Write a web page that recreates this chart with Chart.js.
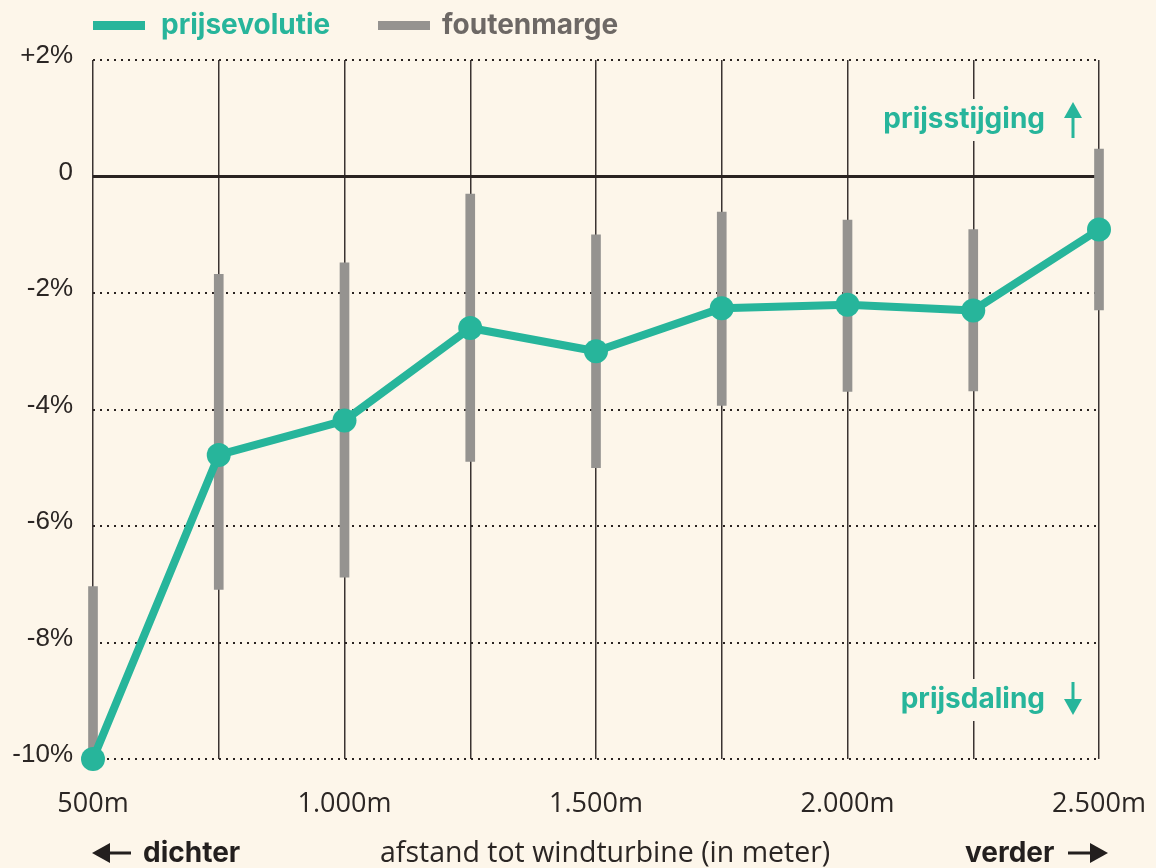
<!DOCTYPE html>
<html>
<head>
<meta charset="utf-8">
<script src="https://cdn.jsdelivr.net/npm/chart.js@4"></script>
<style>
  html, body { margin: 0; padding: 0; background: #fdf6ea; }
  #wrap { position: relative; width: 1156px; height: 868px; overflow: hidden; }
  #chart { position: absolute; left: 0; top: 0; }
  .txt { position: absolute; white-space: nowrap; line-height: 30px; }
  .bold { font-family: Inter, sans-serif; font-weight: 700; font-size: 28px; }
  .swatch { position: absolute; height: 9px; width: 52px; }
</style>
</head>
<body>
<div id="wrap">
  <canvas id="chart" width="1156" height="868"></canvas>

  <div class="swatch" style="left:93px; top:21px; background:#27b59b;"></div>
  <div class="txt bold" style="left:161px; top:9px; color:#27b59b;">prijsevolutie</div>
  <div class="swatch" style="left:378px; top:21px; background:#959390;"></div>
  <div class="txt bold" style="left:442px; top:9px; color:#6d6865;">foutenmarge</div>

  <svg style="position:absolute; left:92px; top:841px;" width="40" height="24">
    <polygon points="0,12 18,2 18,22" fill="#231f1e"/>
    <rect x="14" y="10.5" width="25" height="3" fill="#231f1e"/>
  </svg>
  <div class="txt bold" style="left:143px; top:837px; color:#231f1e;">dichter</div>
  <div class="txt" style="left:380px; top:836px; font-family:'Open Sans', sans-serif; font-size:28.5px; color:#2b2624;">afstand tot windturbine (in meter)</div>
  <div class="txt bold" style="left:965px; top:837px; color:#231f1e;">verder</div>
  <svg style="position:absolute; left:1068px; top:841px;" width="40" height="24">
    <rect x="0" y="10.5" width="25" height="3" fill="#231f1e"/>
    <polygon points="40,12 22,2 22,22" fill="#231f1e"/>
  </svg>
</div>

<script>
// afstand tot windturbine (m) en prijsevolutie (%)
const distances = [500, 750, 1000, 1250, 1500, 1750, 2000, 2250, 2500];
const priceChange = [-10.0, -4.78, -4.19, -2.6, -3.0, -2.26, -2.2, -2.3, -0.91];
const errorLow = [-10.0, -7.09, -6.88, -4.89, -5.0, -3.93, -3.69, -3.68, -2.29];
const errorHigh = [-7.04, -1.68, -1.48, -0.3, -1.0, -0.61, -0.75, -0.91, 0.47];

const xTickLabels = { 500: '500m', 1000: '1.000m', 1500: '1.500m', 2000: '2.000m', 2500: '2.500m' };
const yTicks = [2, 0, -2, -4, -6, -8, -10];
const yTickLabels = ['+2%', '0', '-2%', '-4%', '-6%', '-8%', '-10%'];

const teal = '#27b59b';
const gray = '#959390';
const dark = '#2a2321';
const cream = '#fdf6ea';

// tekstlabels prijsstijging / prijsdaling met pijltje
const notes = {
  id: 'notes',
  beforeDatasetsDraw(chart) {
    const ctx = chart.ctx;
    ctx.save();
    ctx.font = '700 28px Inter';
    ctx.textAlign = 'right';
    ctx.textBaseline = 'middle';
    drawNote(ctx, 'prijsstijging', 1045, 120, true);
    drawNote(ctx, 'prijsdaling', 1045, 700, false);
    ctx.restore();
  }
};

function drawNote(ctx, text, right, y, up) {
  const w = ctx.measureText(text).width;
  ctx.fillStyle = cream;
  ctx.fillRect(right - w - 8, y - 21, w + 50, 42);
  ctx.fillStyle = teal;
  ctx.fillText(text, right, y);
  const ax = right + 28;
  ctx.fillRect(ax - 1.5, up ? y - 6 : y - 18, 3, 24);
  ctx.beginPath();
  if (up) {
    ctx.moveTo(ax, y - 18); ctx.lineTo(ax - 9, y - 2); ctx.lineTo(ax + 9, y - 2);
  } else {
    ctx.moveTo(ax, y + 15); ctx.lineTo(ax - 9, y - 1); ctx.lineTo(ax + 9, y - 1);
  }
  ctx.closePath();
  ctx.fill();
}

new Chart(document.getElementById('chart'), {
  type: 'line',
  data: {
    datasets: [
      {
        type: 'line',
        label: 'prijsevolutie',
        data: distances.map((d, i) => ({ x: d, y: priceChange[i] })),
        borderColor: teal,
        backgroundColor: teal,
        borderWidth: 8,
        pointRadius: 12,
        pointBorderWidth: 0,
        pointBackgroundColor: teal,
        borderJoinStyle: 'round',
        tension: 0,
        clip: false,
        order: 1
      },
      {
        type: 'bar',
        label: 'foutenmarge',
        data: distances.map((d, i) => ({ x: d, y: [errorLow[i], errorHigh[i]] })),
        backgroundColor: gray,
        barThickness: 9,
        grouped: false,
        clip: false,
        order: 2
      }
    ]
  },
  options: {
    responsive: false,
    animation: false,
    devicePixelRatio: 1,
    layout: { padding: { top: 60, right: 57, left: 0, bottom: 0 } },
    plugins: { legend: { display: false }, tooltip: { enabled: false } },
    scales: {
      x: {
        type: 'linear',
        min: 500,
        max: 2500,
        offset: false,
        afterBuildTicks: s => { s.ticks = distances.map(v => ({ value: v })); },
        afterFit: s => { s.height = 109; s.paddingLeft = 0; s.paddingRight = 0; },
        ticks: {
          autoSkip: false,
          maxRotation: 0,
          padding: 29,
          color: '#2b2624',
          font: { family: 'Open Sans', size: 27 },
          callback: v => xTickLabels[v] || ''
        },
        grid: { color: '#3a3331', lineWidth: 1.5, drawTicks: false, offset: false },
        border: { display: false }
      },
      y: {
        min: -10,
        max: 2,
        afterBuildTicks: s => { s.ticks = yTicks.map(v => ({ value: v })); },
        afterFit: s => { s.width = 93; },
        ticks: {
          padding: 20,
          labelOffset: -4,
          color: '#2b2624',
          font: { family: 'Liberation Sans', size: 26 },
          callback: v => yTickLabels[yTicks.indexOf(v)]
        },
        grid: {
          drawTicks: false,
          color: dark,
          lineWidth: c => (c.tick && c.tick.value === 0 ? 3 : 2)
        },
        border: {
          display: false,
          dash: c => (c.tick && c.tick.value === 0 ? [] : [2, 5])
        }
      }
    }
  },
  plugins: [notes]
});
</script>
</body>
</html>
